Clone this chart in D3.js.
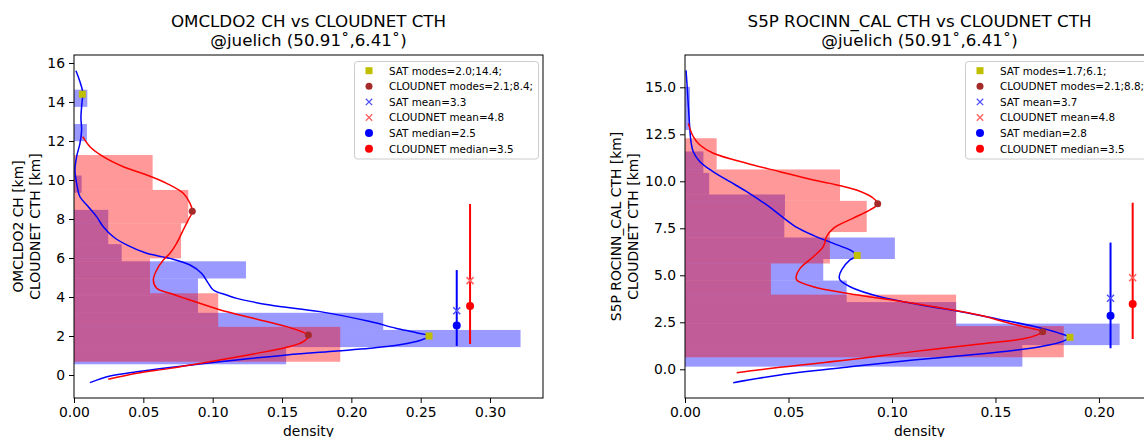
<!DOCTYPE html>
<html>
<head>
<meta charset="utf-8">
<script src="https://cdn.jsdelivr.net/npm/d3@7"></script>
<style>
  body { margin: 0; background: #fff; }
  svg { display: block; font-family: "DejaVu Sans", sans-serif; }
</style>
</head>
<body>
<svg id="chart" width="1144" height="437"></svg>
<script>
// ---- left panel: OMCLDO2 ----
const leftSatEdges = [0.55, 1.43, 2.31, 3.19, 4.07, 4.95, 5.83, 6.71, 7.59, 8.47, 9.35, 10.23, 11.11, 11.99, 12.87, 13.75, 14.63];
const leftSatDensity = [0.153, 0.322, 0.223, 0.0894, 0.0894, 0.124, 0.0344, 0.0247, 0.0247, 0, 0.0055, 0, 0, 0.0093, 0, 0.0096];
const leftCnEdges = [0.68, 2.47, 4.19, 5.98, 7.78, 9.49, 11.28];
const leftCnDensity = [0.192, 0.104, 0.0548, 0.0772, 0.0824, 0.0567];

const leftSatKde = [[0.0014, 15.6], [0.004, 15.1], [0.0064, 14.45], [0.0058, 14.0], [0.005, 13.2], [0.0055, 12.56], [0.0043, 11.88],
  [0.0019, 11.2], [0.0007, 10.5], [0.0019, 9.83], [0.0043, 9.14], [0.0103, 8.63], [0.0163, 8.12], [0.0211, 7.6], [0.0283, 7.09],
  [0.038, 6.67], [0.0524, 6.24], [0.0692, 5.98], [0.0837, 5.64], [0.0921, 5.21], [0.0969, 4.7], [0.1005, 4.36], [0.110, 4.1],
  [0.1173, 3.93], [0.1413, 3.59], [0.1774, 3.25], [0.2135, 2.74], [0.232, 2.4], [0.247, 2.17], [0.256, 2.0], [0.25, 1.78],
  [0.235, 1.55], [0.2135, 1.37], [0.1894, 1.23], [0.1534, 1.03], [0.105, 0.68], [0.0692, 0.39], [0.0452, 0.17], [0.026, -0.05], [0.0115, -0.39]];
const leftCnKde = [[0.0063, 12.22], [0.0115, 11.71], [0.0211, 11.2], [0.0356, 10.68], [0.0524, 10.26], [0.0668, 9.83], [0.0788, 9.32],
  [0.0837, 8.8], [0.0853, 8.37], [0.0824, 7.95], [0.0788, 7.44], [0.074, 6.75], [0.0692, 6.24], [0.0644, 5.9], [0.0596, 5.38],
  [0.0572, 4.87], [0.0596, 4.45], [0.0692, 4.19], [0.0813, 3.9], [0.105, 3.35], [0.1293, 2.91], [0.1534, 2.48], [0.165, 2.2],
  [0.169, 2.02], [0.1654, 1.71], [0.1534, 1.42], [0.1317, 1.11], [0.105, 0.77], [0.0692, 0.34], [0.0452, 0.09], [0.0247, -0.22]];

const leftSatModes = [[0.256, 2.0], [0.006, 14.4]];
const leftCnModes = [[0.169, 2.05], [0.0853, 8.4]];
// x position, low, high, mean, median
const leftSatStats = [0.276, 1.49, 5.38, 3.3, 2.54];
const leftCnStats = [0.2856, 1.59, 8.77, 4.84, 3.54];
const leftLegend = ["SAT modes=2.0;14.4;", "CLOUDNET modes=2.1;8.4;", "SAT mean=3.3", "CLOUDNET mean=4.8", "SAT median=2.5", "CLOUDNET median=3.5"];

// ---- right panel: S5P ROCINN_CAL ----
const rightSatEdges = [0.14, 1.285, 2.43, 3.575, 4.72, 5.865, 7.01, 8.155, 9.30, 10.445, 11.59, 12.735, 13.88, 15.025];
const rightSatDensity = [0.163, 0.21, 0.131, 0.0781, 0.0668, 0.1014, 0.048, 0.0483, 0.0117, 0.0089, 0, 0.0024, 0.0024];
const rightCnEdges = [0.64, 2.30, 3.97, 5.63, 7.30, 8.96, 10.63, 12.29];
const rightCnDensity = [0.183, 0.131, 0.0415, 0.070, 0.0878, 0.0749, 0.0153];

const rightSatKde = [[0.0005, 15.9], [0.0011, 14.95], [0.0021, 13.17], [0.0029, 12.1], [0.004, 11.57], [0.0072, 11.04], [0.0137, 10.5],
  [0.0217, 9.98], [0.0298, 9.45], [0.0395, 8.74], [0.0465, 8.15], [0.054, 7.55], [0.0625, 7.1], [0.0717, 6.7], [0.0797, 6.35],
  [0.0821, 6.17], [0.0832, 6.04], [0.0797, 5.82], [0.0757, 5.29], [0.0745, 4.93], [0.0749, 4.75], [0.0813, 4.31], [0.0942, 3.86], [0.114, 3.42],
  [0.134, 3.05], [0.152, 2.65], [0.168, 2.3], [0.18, 1.95], [0.1855, 1.7], [0.1828, 1.5], [0.1715, 1.2], [0.1586, 1.0],
  [0.1425, 0.81], [0.1103, 0.49], [0.0781, 0.11], [0.0459, -0.3], [0.0233, -0.71]];
const rightCnKde = [[0.0016, 13.08], [0.004, 12.37], [0.0072, 11.93], [0.0137, 11.49], [0.0298, 10.96], [0.0459, 10.51], [0.062, 10.07],
  [0.07, 9.89], [0.0829, 9.54], [0.091, 9.1], [0.0931, 8.78], [0.0894, 8.48], [0.0813, 8.04], [0.0717, 7.5], [0.0684, 7.06],
  [0.0668, 6.52], [0.062, 5.99], [0.0556, 5.37], [0.0537, 4.93], [0.054, 4.75], [0.062, 4.39], [0.0781, 4.04], [0.1103, 3.51],
  [0.1425, 2.87], [0.155, 2.5], [0.165, 2.23], [0.1728, 2.0], [0.1699, 1.82], [0.1634, 1.62], [0.1425, 1.35], [0.1103, 0.94],
  [0.0781, 0.49], [0.0459, 0.11], [0.025, -0.18]];

const rightSatModes = [[0.186, 1.7], [0.0832, 6.05]];
const rightCnModes = [[0.1728, 2.0], [0.0931, 8.8]];
const rightSatStats = [0.2056, 1.12, 6.74, 3.78, 2.85];
const rightCnStats = [0.2163, 1.61, 8.86, 4.87, 3.47];
const rightLegend = ["SAT modes=1.7;6.1;", "CLOUDNET modes=2.1;8.8;", "SAT mean=3.7", "CLOUDNET mean=4.8", "SAT median=2.8", "CLOUDNET median=3.5"];

// ---- ticks ----
const leftXTicks = [0, 0.05, 0.10, 0.15, 0.20, 0.25, 0.30];
const leftYTicks = [0, 2, 4, 6, 8, 10, 12, 14, 16];
const rightXTicks = [0, 0.05, 0.10, 0.15, 0.20];
const rightYTicks = [0, 2.5, 5.0, 7.5, 10.0, 12.5, 15.0];

const svg = d3.select("#chart");
const font = 13.9;

function panel(o) {
  const x = d3.scaleLinear().domain(o.xDomain).range([o.left, o.right]);
  const y = d3.scaleLinear().domain(o.yDomain).range([o.bottom, o.top]);
  const g = svg.append("g");

  g.append("defs").append("clipPath").attr("id", o.id + "clip")
    .append("rect").attr("x", o.left).attr("y", o.top)
    .attr("width", o.right - o.left).attr("height", o.bottom - o.top);
  const plot = g.append("g").attr("clip-path", `url(#${o.id}clip)`);

  // histograms (horizontal)
  function hist(edges, dens, color) {
    plot.append("g").selectAll("rect")
      .data(dens.map((d, i) => ({ d: d, lo: edges[i], hi: edges[i + 1] })).filter(b => b.d > 0))
      .join("rect")
      .attr("x", x(0))
      .attr("y", b => y(b.hi))
      .attr("width", b => x(b.d) - x(0))
      .attr("height", b => y(b.lo) - y(b.hi))
      .attr("fill", color)
      .attr("fill-opacity", 0.4);
  }
  hist(o.satEdges, o.satDensity, "#0000ff");
  hist(o.cnEdges, o.cnDensity, "#ff0000");

  const line = d3.line().x(d => x(d[0])).y(d => y(d[1])).curve(d3.curveCatmullRom.alpha(0.5));
  plot.append("path").attr("d", line(o.satKde)).attr("fill", "none").attr("stroke", "#0000ff").attr("stroke-width", 1.5);
  plot.append("path").attr("d", line(o.cnKde)).attr("fill", "none").attr("stroke", "#ff0000").attr("stroke-width", 1.5);

  // modes
  plot.append("g").selectAll("rect").data(o.satModes).join("rect")
    .attr("x", d => x(d[0]) - 3.5).attr("y", d => y(d[1]) - 3.5)
    .attr("width", 7).attr("height", 7).attr("fill", "#bfbf00");
  plot.append("g").selectAll("circle").data(o.cnModes).join("circle")
    .attr("cx", d => x(d[0])).attr("cy", d => y(d[1])).attr("r", 3.5).attr("fill", "#a52a2a");

  // error bars with mean and median
  function stats(s, color, meanColor) {
    const sg = plot.append("g");
    sg.append("line").attr("x1", x(s[0])).attr("x2", x(s[0]))
      .attr("y1", y(s[1])).attr("y2", y(s[2])).attr("stroke", color).attr("stroke-width", 2);
    const mx = x(s[0]), my = y(s[3]), k = 3.5;
    sg.append("path").attr("d", `M${mx - k},${my - k}L${mx + k},${my + k}M${mx - k},${my + k}L${mx + k},${my - k}`)
      .attr("stroke", meanColor).attr("stroke-width", 1.5);
    sg.append("circle").attr("cx", x(s[0])).attr("cy", y(s[4])).attr("r", 4).attr("fill", color);
  }
  stats(o.satStats, "#0000ff", "#5050ff");
  stats(o.cnStats, "#ff0000", "#ff6060");

  // frame
  g.append("rect").attr("x", o.left).attr("y", o.top)
    .attr("width", o.right - o.left).attr("height", o.bottom - o.top)
    .attr("fill", "none").attr("stroke", "#000").attr("stroke-width", 1);

  // axes
  const ax = g.append("g").attr("transform", `translate(0,${o.bottom})`)
    .call(d3.axisBottom(x).tickValues(o.xTicks).tickFormat(d3.format(".2f")).tickSize(5).tickPadding(4).tickSizeOuter(0));
  const ay = g.append("g").attr("transform", `translate(${o.left},0)`)
    .call(d3.axisLeft(y).tickValues(o.yTicks).tickFormat(o.yFormat).tickSize(5).tickPadding(4).tickSizeOuter(0));
  [ax, ay].forEach(a => {
    a.select(".domain").remove();
    a.selectAll("text").attr("font-size", font).attr("font-family", "DejaVu Sans").attr("fill", "#000");
    a.selectAll("line").attr("stroke", "#000");
  });

  const cx = (o.left + o.right) / 2;
  g.append("text").attr("x", cx).attr("y", 436).attr("text-anchor", "middle")
    .attr("font-size", font).text("density");

  const cy = (o.top + o.bottom) / 2;
  o.yLabel.forEach((t, i) => {
    g.append("text").attr("transform", `translate(${o.yLabelX + i * 16.5},${cy}) rotate(-90)`)
      .attr("text-anchor", "middle").attr("font-size", font).text(t);
  });

  o.title.forEach((t, i) => {
    g.append("text").attr("x", cx).attr("y", 27 + i * 19).attr("text-anchor", "middle")
      .attr("font-size", 16.7).text(t);
  });

  // legend
  const lg = g.append("g");
  lg.append("rect").attr("x", o.right - 4.5 - 184).attr("y", o.top + 6.5)
    .attr("width", 184).attr("height", 97.5).attr("rx", 3)
    .attr("fill", "#fff").attr("fill-opacity", 0.8).attr("stroke", "#cccccc");
  const mkx = o.right - 4.5 - 184 + 14.5;
  o.legend.forEach((t, i) => {
    const ly = o.top + 15.7 + i * 15.6;
    if (i === 0) lg.append("rect").attr("x", mkx - 3.5).attr("y", ly - 3.5).attr("width", 7).attr("height", 7).attr("fill", "#bfbf00");
    if (i === 1) lg.append("circle").attr("cx", mkx).attr("cy", ly).attr("r", 3.5).attr("fill", "#a52a2a");
    if (i === 2 || i === 3) {
      const c = i === 2 ? "#5050ff" : "#ff6060", k = 3.2;
      lg.append("path").attr("d", `M${mkx - k},${ly - k}L${mkx + k},${ly + k}M${mkx - k},${ly + k}L${mkx + k},${ly - k}`)
        .attr("stroke", c).attr("stroke-width", 1.3);
    }
    if (i === 4 || i === 5) lg.append("circle").attr("cx", mkx).attr("cy", ly).attr("r", 4).attr("fill", i === 4 ? "#0000ff" : "#ff0000");
    lg.append("text").attr("x", mkx + 20).attr("y", ly + 3.8).attr("font-size", 10.4).attr("fill", "#000").text(t);
  });
}

panel({
  id: "l", left: 74, right: 543, top: 55, bottom: 398,
  xDomain: [0, 0.3382], yDomain: [-1.179, 16.41],
  xTicks: leftXTicks, yTicks: leftYTicks, yFormat: d3.format("d"),
  satEdges: leftSatEdges, satDensity: leftSatDensity, cnEdges: leftCnEdges, cnDensity: leftCnDensity,
  satKde: leftSatKde, cnKde: leftCnKde, satModes: leftSatModes, cnModes: leftCnModes,
  satStats: leftSatStats, cnStats: leftCnStats, legend: leftLegend,
  yLabel: ["OMCLDO2 CH [km]", "CLOUDNET CTH [km]"], yLabelX: 23,
  title: ["OMCLDO2 CH vs CLOUDNET CTH", "@juelich (50.91\u02da,6.41\u02da)"]
});

panel({
  id: "r", left: 685, right: 1154, top: 55, bottom: 398,
  xDomain: [0, 0.2266], yDomain: [-1.527, 16.718],
  xTicks: rightXTicks, yTicks: rightYTicks, yFormat: d3.format(".1f"),
  satEdges: rightSatEdges, satDensity: rightSatDensity, cnEdges: rightCnEdges, cnDensity: rightCnDensity,
  satKde: rightSatKde, cnKde: rightCnKde, satModes: rightSatModes, cnModes: rightCnModes,
  satStats: rightSatStats, cnStats: rightCnStats, legend: rightLegend,
  yLabel: ["S5P ROCINN_CAL CTH [km]", "CLOUDNET CTH [km]"], yLabelX: 621,
  title: ["S5P ROCINN_CAL CTH vs CLOUDNET CTH", "@juelich (50.91\u02da,6.41\u02da)"]
});
</script>
</body>
</html>
